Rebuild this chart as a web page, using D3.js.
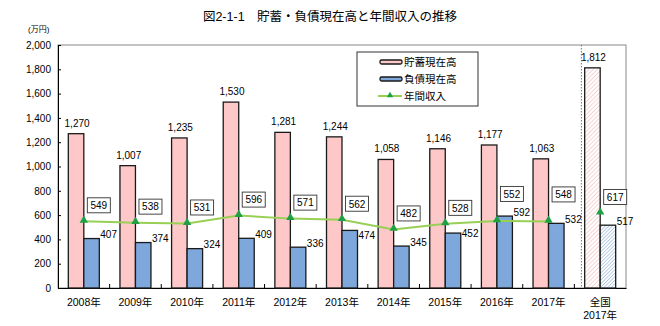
<!DOCTYPE html>
<html><head><meta charset="utf-8">
<script src="https://cdn.jsdelivr.net/npm/d3@7"></script>
<style>
body{margin:0;background:#fff;}
text{font-family:"Liberation Sans","Noto Sans CJK JP",sans-serif;fill:#000;}
</style></head>
<body>
<svg id="c" width="660" height="326"></svg>
<script>
const categories = ["2008年","2009年","2010年","2011年","2012年","2013年","2014年","2015年","2016年","2017年","全国|2017年"];
const savings = [1270,1007,1235,1530,1281,1244,1058,1146,1177,1063,1812];
const debt = [407,374,324,409,336,474,345,452,592,532,517];
const income = [549,538,531,596,571,562,482,528,552,548,617];
const yTicks = [0,200,400,600,800,1000,1200,1400,1600,1800,2000];
const seriesNames = ["貯蓄現在高","負債現在高","年間収入"];
const titleText = "図2-1-1　貯蓄・負債現在高と年間収入の推移";
const unitText = "(万円)";

const svg = d3.select("#c");
const L = 58, R = 626, T = 45, B = 288;
const x = d3.scaleBand().domain(d3.range(categories.length)).range([L, R]).padding(0);
const y = d3.scaleLinear().domain([0, 2000]).range([B, T]);
const bw = 15.5;
const fmt = d3.format(",");
const nYears = categories.length - 1;
const lineColor = "#98cf55", markColor = "#1fa045";

const defs = svg.append("defs");
function hatch(id, color, gap){
  const p = defs.append("pattern").attr("id", id).attr("patternUnits","userSpaceOnUse")
    .attr("width", gap).attr("height", gap).attr("patternTransform","rotate(45)");
  p.append("rect").attr("width",gap).attr("height",gap).attr("fill","#fff");
  p.append("line").attr("x1",0).attr("y1",0).attr("x2",0).attr("y2",gap)
    .attr("stroke",color).attr("stroke-width",1.2);
}
hatch("hp","#f2b8b8",3);
hatch("hb","#8fb0d8",2.5);

// title
svg.append("text").attr("x", 330).attr("y", 21).attr("text-anchor","middle")
  .attr("font-size", 12.5).attr("font-weight","normal").text(titleText);
svg.append("text").attr("x", 28).attr("y", 32).attr("font-size", 8).text(unitText);

// plot border
svg.append("rect").attr("x", L).attr("y", T).attr("width", R-L).attr("height", B-T)
  .attr("fill","none").attr("stroke","#888").attr("stroke-width",1);

// y axis
const yAxis = d3.axisLeft(y).tickValues(yTicks).tickFormat(fmt).tickSize(-3).tickPadding(7);
const ga = svg.append("g").attr("transform",`translate(${L},0)`).call(yAxis);
ga.select(".domain").attr("stroke","#000");
ga.selectAll(".tick line").attr("stroke","#000");
ga.selectAll("text").attr("font-size",10).attr("font-family",'"Liberation Sans",sans-serif');

// x axis
const xAxis = d3.axisBottom(x).tickSize(0).tickFormat(()=>"");
const gx = svg.append("g").attr("transform",`translate(0,${B})`).call(xAxis);
gx.select(".domain").attr("stroke","#000");
svg.append("g").selectAll("line").data(d3.range(1, categories.length)).join("line")
  .attr("x1", i=>x(i)).attr("x2", i=>x(i)).attr("y1", B).attr("y2", B-4)
  .attr("stroke","#000");
categories.forEach((c,i)=>{
  c.split("|").forEach((p,j)=>{
    svg.append("text").attr("x", x(i)+x.bandwidth()/2).attr("y", 306 + j*13)
      .attr("text-anchor","middle").attr("font-size",10.5).text(p);
  });
});

// separator
svg.append("line").attr("x1", x(nYears)+7).attr("x2", x(nYears)+7).attr("y1", T).attr("y2", B)
  .attr("stroke","#777").attr("stroke-dasharray","1.5,1.5");

const cx = i => x(i) + x.bandwidth()/2;

// savings bars
svg.append("g").selectAll("rect").data(savings).join("rect")
  .attr("x",(d,i)=>cx(i)-bw).attr("y",d=>y(d)).attr("width",bw).attr("height",d=>B-y(d))
  .attr("fill",(d,i)=> i===nYears ? "url(#hp)" : "#ffc8c8")
  .attr("stroke","#1a1a1a").attr("stroke-width",1.3);
// debt bars
svg.append("g").selectAll("rect").data(debt).join("rect")
  .attr("x",(d,i)=>cx(i)).attr("y",d=>y(d)).attr("width",bw).attr("height",d=>B-y(d))
  .attr("fill",(d,i)=> i===nYears ? "url(#hb)" : "#7ea7dc")
  .attr("stroke","#1a1a1a").attr("stroke-width",1.3);

// savings labels
svg.append("g").selectAll("text").data(savings).join("text")
  .attr("x",(d,i)=>cx(i)-bw/2+1).attr("y",d=>y(d)-7).attr("text-anchor","middle")
  .attr("font-size",10).text(d=>fmt(d));

// income line y at a given x (within the yearly segment)
function lineYAt(px){
  for(let i=0;i<nYears-1;i++){
    const x0=cx(i), x1=cx(i+1);
    if(px>=x0 && px<=x1){
      const t=(px-x0)/(x1-x0);
      return y(income[i])*(1-t)+y(income[i+1])*t;
    }
  }
  return null;
}
// debt labels, nudged below the income line when they would touch it
debt.forEach((d,i)=>{
  const lx = cx(i)+bw+1;
  let midY = y(d)-4;
  const ly = i<nYears ? lineYAt(lx+8) : null;
  if(ly!==null && Math.abs(midY-ly) < 8) midY = ly + 11;
  svg.append("text").attr("x",lx).attr("y",midY+3.6).attr("text-anchor","start")
    .attr("font-size",10).text(fmt(d));
});

// income line
const line = d3.line().x((d,i)=>cx(i)).y(d=>y(d));
svg.append("path").datum(income.slice(0,nYears)).attr("d",line)
  .attr("fill","none").attr("stroke",lineColor).attr("stroke-width",2);
const tri = d3.symbol().type(d3.symbolTriangle).size(30);
svg.append("g").selectAll("path").data(income).join("path")
  .attr("d",tri).attr("transform",(d,i)=>`translate(${cx(i)},${y(d)-1})`)
  .attr("fill",markColor);

// income label boxes
income.forEach((v,i)=>{
  const raised = debt[i] > v - 60;
  const by = y(v) - (raised ? 27 : 16);
  const bx = cx(i) + 15;
  svg.append("rect").attr("x",bx-11.5).attr("y",by-7.5).attr("width",23).attr("height",15)
    .attr("fill","#fff").attr("stroke","#333").attr("stroke-width",0.9);
  svg.append("text").attr("x",bx).attr("y",by+3.8).attr("text-anchor","middle")
    .attr("font-size",10).text(v);
});

// legend
const lg = svg.append("g");
lg.append("rect").attr("x",357).attr("y",52).attr("width",121).attr("height",54)
  .attr("fill","#fff").attr("stroke","#333").attr("stroke-width",1);
const ly = [62,79,96];
lg.append("rect").attr("x",380).attr("y",ly[0]-2).attr("width",22).attr("height",4).attr("rx",1.5)
  .attr("fill","#ffc8c8").attr("stroke","#1a1a1a").attr("stroke-width",1.3);
lg.append("rect").attr("x",380).attr("y",ly[1]-2).attr("width",22).attr("height",4).attr("rx",1.5)
  .attr("fill","#7ea7dc").attr("stroke","#1a1a1a").attr("stroke-width",1.3);
lg.append("line").attr("x1",378).attr("x2",402).attr("y1",ly[2]).attr("y2",ly[2])
  .attr("stroke",lineColor).attr("stroke-width",2);
lg.append("path").attr("d",d3.symbol().type(d3.symbolTriangle).size(18))
  .attr("transform",`translate(390,${ly[2]-0.5})`).attr("fill",markColor);
seriesNames.forEach((n,k)=>{
  lg.append("text").attr("x",404).attr("y",ly[k]+4).attr("font-size",10.5).text(n);
});
</script>
</body></html>
